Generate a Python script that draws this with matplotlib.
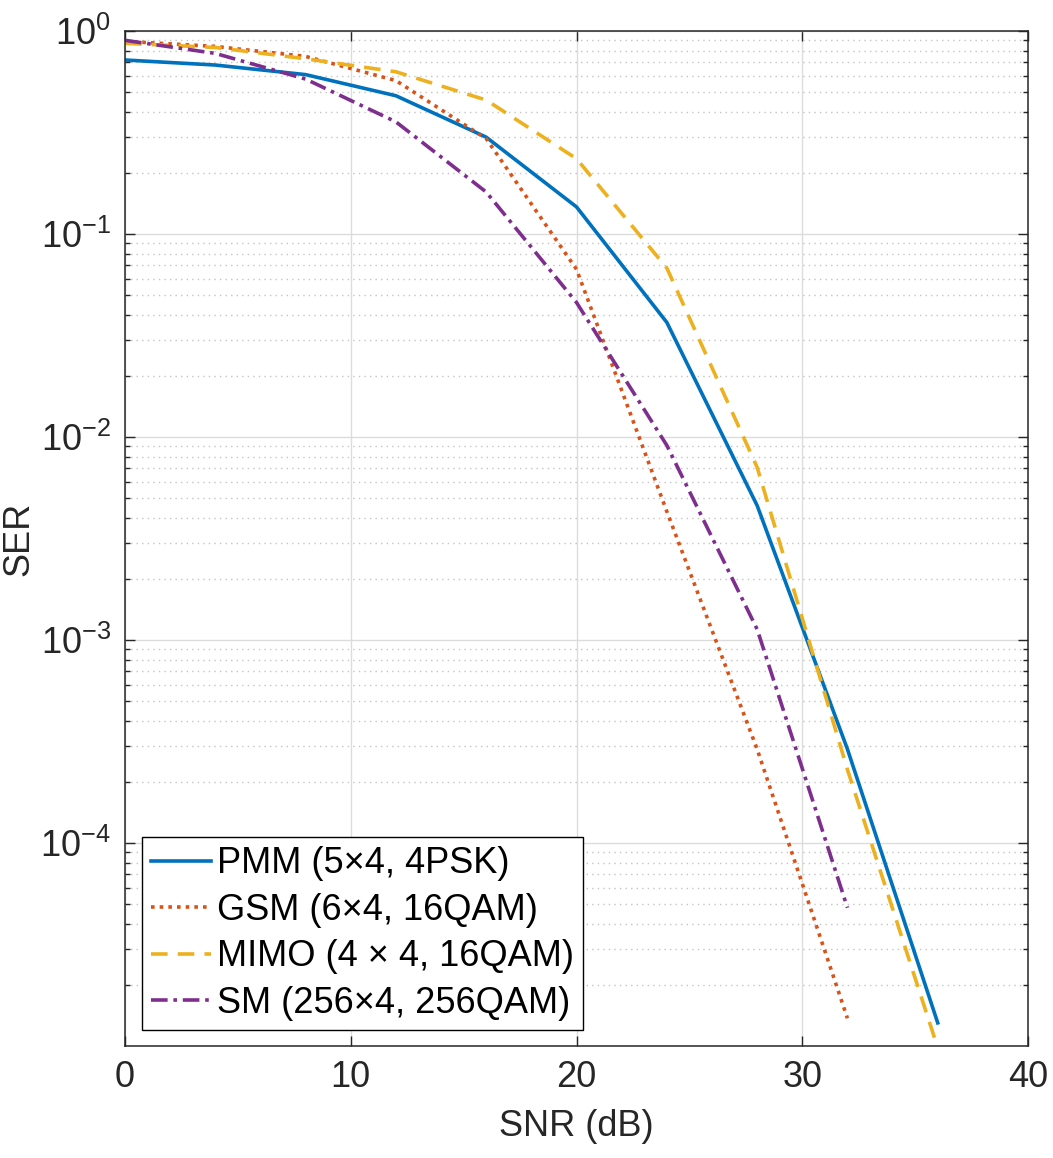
import numpy as np
import matplotlib
matplotlib.use('Agg')
import matplotlib.pyplot as plt
from matplotlib.ticker import LogLocator, NullFormatter, NullLocator

plt.rcParams['font.family'] = ['Liberation Sans', 'DejaVu Sans']
plt.rcParams['mathtext.fontset'] = 'custom'
plt.rcParams['mathtext.rm'] = 'Liberation Sans'
plt.rcParams['mathtext.default'] = 'regular'
plt.rcParams['axes.unicode_minus'] = False

# SNR points (dB)
snr_long = [0, 4, 8, 12, 16, 20, 24, 28, 32, 36]
snr_short = [0, 4, 8, 12, 16, 20, 24, 28, 32]

ser_pmm = [0.72, 0.68, 0.61, 0.48, 0.30, 0.136, 0.0367, 0.0046, 2.9e-4, 1.3e-5]
ser_gsm = [0.89, 0.84, 0.75, 0.57, 0.295, 0.067, 0.0043, 2.9e-4, 1.37e-5]
ser_mimo = [0.87, 0.83, 0.73, 0.63, 0.457, 0.235, 0.068, 0.0071, 2.3e-4, 9.8e-6]
ser_sm = [0.90, 0.776, 0.58, 0.357, 0.161, 0.046, 0.0091, 0.00113, 4.8e-5]

labels = ['PMM (5\u00d74, 4PSK)', 'GSM (6\u00d74, 16QAM)',
          'MIMO (4 \u00d7 4, 16QAM)', 'SM (256\u00d74, 256QAM)']

fs = 26

fig = plt.figure(figsize=(10.53, 11.58), dpi=100)
ax = fig.add_axes([0.1187, 0.0967, 0.8576, 0.8765])

lw = 2.6
ax.plot(snr_long, ser_pmm, color='#0072BD', lw=lw, label=labels[0])
ax.plot(snr_short, ser_gsm, color='#D95319', lw=lw, dashes=(1.0, 1.4), label=labels[1])
ax.plot(snr_long, ser_mimo, color='#EDB120', lw=lw, dashes=(4.6, 2.8), label=labels[2])
ax.plot(snr_short, ser_sm, color='#7E2F8E', lw=lw, dashes=(4.6, 1.6, 1.0, 1.6), label=labels[3])

ax.set_yscale('log')
ax.set_xlim(0, 40)
ax.set_ylim(1.0e-5, 1)
ax.set_xticks([0, 10, 20, 30, 40])
ax.set_yticks([1e-4, 1e-3, 1e-2, 1e-1, 1])
ax.yaxis.set_minor_locator(LogLocator(base=10, subs=np.arange(2, 10)))
ax.yaxis.set_minor_formatter(NullFormatter())
ax.xaxis.set_minor_locator(NullLocator())

ax.grid(which='major', color='#dcdcdc', lw=1.0, ls='-')
ax.grid(which='minor', axis='y', color='#c4c4c4', lw=1.0, ls=(0, (1, 3)))
ax.set_axisbelow(True)

ax.tick_params(which='both', direction='in', top=True, right=True,
               colors='#262626', labelcolor='#262626', width=1.0)
ax.tick_params(which='major', length=7, labelsize=fs)
ax.tick_params(which='minor', length=3.5)
ax.tick_params(axis='x', pad=10)
ax.tick_params(axis='y', pad=10)
for s in ax.spines.values():
    s.set_color('#262626')
    s.set_linewidth(1.1)

ax.set_xlabel('SNR (dB)', fontsize=fs, color='#262626', labelpad=10)
ax.set_ylabel('SER', fontsize=fs, color='#262626')
ax.yaxis.set_label_coords(-0.098, 0.5)

leg = ax.legend(loc='lower left', bbox_to_anchor=(0.019, 0.0158), borderaxespad=0,
                fontsize=fs, handlelength=1.65, handletextpad=0.16, labelspacing=0.32,
                borderpad=0.25, fancybox=False, framealpha=1, edgecolor='black')
leg.get_frame().set_linewidth(1.0)

fig.savefig('out.png', dpi=100)
